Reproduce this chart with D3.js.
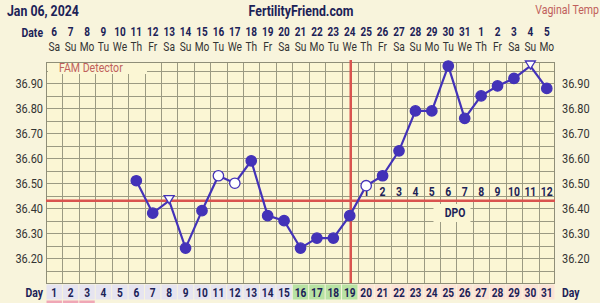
<!DOCTYPE html>
<html><head><meta charset="utf-8">
<script src="https://cdn.jsdelivr.net/npm/d3@7"></script>
<style>
html,body{margin:0;padding:0;background:#f8f4dc;}
svg{display:block;font-family:Roboto,"Noto Sans",sans-serif;}
</style></head>
<body><svg id="c" width="600" height="303"></svg>
<script>
const cycleDays = d3.range(1, 32);
const dateLabels = ["6","7","8","9","10","11","12","13","14","15","16","17","18","19","20","21","22","23","24","25","26","27","28","29","30","31","1","2","3","4","5"];
const weekdays = ["Sa","Su","Mo","Tu","We","Th","Fr","Sa","Su","Mo","Tu","We","Th","Fr","Sa","Su","Mo","Tu","We","Th","Fr","Sa","Su","Mo","Tu","We","Th","Fr","Sa","Su","Mo"];
const temps = [null,null,null,null,null,36.51,36.38,36.43,36.24,36.39,36.53,36.50,36.59,36.37,36.35,36.24,36.28,36.28,36.37,36.49,36.53,36.63,36.79,36.79,36.97,36.76,36.85,36.89,36.92,36.97,36.88];
const markers = [null,null,null,null,null,"f","f","t","f","f","o","o","f","f","f","f","f","f","f","o","f","f","f","f","f","f","f","f","f","t","f"];
const dayPhase = ["p","p","p","n","n","n","n","n","n","n","n","n","n","n","n","g","g","g","g","l","l","l","l","l","l","l","l","l","l","l","l"];
const dpoLabels = [null,null,null,null,null,null,null,null,null,null,null,null,null,null,null,null,null,null,null,"1","2","3","4","5","6","7","8","9","10","11","12"];
const yTicks = [36.20,36.30,36.40,36.50,36.60,36.70,36.80,36.90];
const coverline = 36.43;
const ovulationDay = 19;

const svg = d3.select("#c");
const L = 46, R = 555, T = 62, B = 283;
const x = d3.scaleBand().domain(cycleDays).range([L, R]).padding(0);
const cx = d => x(d) + x.bandwidth() / 2;
const y = d3.scaleLinear().domain([36.10, 36.986]).range([B, T]);
const navy = "#1c2257", purple = "#4332b8", red = "#d9534f";

// condensed text helper
function ctext(parent, tx, ty, str, o) {
  const t = parent.append("text")
    .attr("transform", `translate(${tx},${ty}) scale(${o.sx || 0.8},1)`)
    .attr("font-size", o.size || 12)
    .attr("font-weight", o.bold ? "bold" : "normal")
    .attr("fill", o.fill || navy)
    .attr("text-anchor", o.anchor || "start")
    .text(str);
  return t;
}

// plot background
svg.append("rect").attr("x", L).attr("y", T).attr("width", R - L).attr("height", B - T).attr("fill", "#fbf6d4");

// grid
const g = svg.append("g").attr("stroke", "#9b9a82").attr("stroke-width", 1);
const hLines = d3.range(36.10, 36.99, 0.05);
g.selectAll("line.h").data(hLines).join("line")
  .attr("x1", L).attr("x2", R)
  .attr("y1", d => Math.round(y(d)) + 0.5).attr("y2", d => Math.round(y(d)) + 0.5);
g.selectAll("line.v").data(cycleDays.slice(1)).join("line")
  .attr("y1", T).attr("y2", B)
  .attr("x1", d => Math.round(x(d)) + 0.5).attr("x2", d => Math.round(x(d)) + 0.5);
svg.append("rect").attr("x", L + 0.5).attr("y", T + 0.5).attr("width", R - L - 1).attr("height", B - T)
  .attr("fill", "none").attr("stroke", "#8f8e78");

// FAM detector label
svg.append("rect").attr("x", L + 2).attr("y", T + 1).attr("width", 99).attr("height", 11).attr("fill", "#fbf6d4");
ctext(svg, L + 13, T + 9.5, "FAM Detector", {size: 12, sx: 0.88, fill: "#c0605b"});

// DPO label box
const dpoC = x(26);
svg.append("rect").attr("x", dpoC - 23).attr("y", 204).attr("width", 37).attr("height", 18).attr("fill", "#fbf6d4");
ctext(svg, dpoC - 1.5, y(36.365), "DPO", {size: 13, bold: true, sx: 0.8, anchor: "middle"});

// coverline and ovulation line
svg.append("line").attr("x1", L).attr("x2", R).attr("y1", y(coverline)).attr("y2", y(coverline))
  .attr("stroke", red).attr("stroke-width", 2.5);
const ovX = cx(ovulationDay) + 1;
svg.append("line").attr("x1", ovX).attr("x2", ovX).attr("y1", T - 2).attr("y2", B)
  .attr("stroke", red).attr("stroke-width", 2.5);

// DPO numbers
const dpoG = svg.append("g");
cycleDays.forEach((d, i) => { if (dpoLabels[i]) ctext(dpoG, cx(d), y(36.45) + 0.5, dpoLabels[i], {size: 13, bold: true, sx: 0.8, anchor: "middle"}); });

// temperature line
const pts = cycleDays.map((d, i) => ({d, v: temps[i], m: markers[i]})).filter(p => p.v != null);
const line = d3.line().x(p => cx(p.d)).y(p => y(p.v));
svg.append("path").datum(pts).attr("d", line).attr("fill", "none").attr("stroke", purple).attr("stroke-width", 2.2);
svg.append("g").selectAll("circle").data(pts.filter(p => p.m !== "t")).join("circle")
  .attr("cx", p => cx(p.d)).attr("cy", p => y(p.v)).attr("r", 5.2)
  .attr("fill", p => p.m === "o" ? "#ffffff" : purple).attr("stroke", purple).attr("stroke-width", 1.3);
svg.append("g").selectAll("path").data(pts.filter(p => p.m === "t")).join("path")
  .attr("transform", p => `translate(${cx(p.d)},${y(p.v)})`)
  .attr("d", "M-5,-5L5,-5L0,3Z").attr("fill", "#ffffff").attr("stroke", purple).attr("stroke-width", 1.3);

// y axes
const yl = svg.append("g"), yr = svg.append("g");
yTicks.forEach(t => {
  ctext(yl, L - 3, y(t) + 5, t.toFixed(2), {size: 12.5, sx: 0.88, fill: "#333", anchor: "end"});
  ctext(yr, R + 7, y(t) + 5, t.toFixed(2), {size: 12.5, sx: 0.88, fill: "#333"});
});

// header
ctext(svg, 7, 16, "Jan 06, 2024", {size: 14, bold: true, sx: 0.88});
ctext(svg, 301, 16, "FertilityFriend.com", {size: 14, bold: true, sx: 0.88, anchor: "middle"});
ctext(svg, 599, 14, "Vaginal Temp", {size: 12, sx: 0.88, fill: "#c0605b", anchor: "end"});
ctext(svg, 43, 37, "Date", {size: 13, bold: true, sx: 0.8, anchor: "end"});
const hd = svg.append("g");
cycleDays.forEach((d, i) => {
  ctext(hd, cx(d), 36, dateLabels[i], {size: 12.5, bold: true, sx: 0.8, anchor: "middle"});
  ctext(hd, cx(d), 51, weekdays[i], {size: 12, sx: 0.85, fill: "#333", anchor: "middle"});
});

// day row
const phaseFill = {p: "#e6e4f0", n: "#e6e4f0", g: "#b8e2a3", l: "#fbe3d6"};
const dayRow = svg.append("g");
dayRow.selectAll("rect").data(cycleDays).join("rect")
  .attr("x", d => x(d) + 0.5).attr("y", B + 1.5).attr("width", x.bandwidth() - 1).attr("height", 15)
  .attr("fill", d => phaseFill[dayPhase[d - 1]]);
dayRow.selectAll("rect.m").data(cycleDays.filter(d => dayPhase[d - 1] === "p")).join("rect")
  .attr("x", d => x(d) + 0.5).attr("y", B + 17.5).attr("width", x.bandwidth() - 1).attr("height", 2.5)
  .attr("fill", "#f0a7b6");
cycleDays.forEach(d => ctext(dayRow, cx(d), B + 13.5, String(d), {size: 13, bold: true, sx: 0.78, anchor: "middle"}));
ctext(svg, 43, B + 13.5, "Day", {size: 13, bold: true, sx: 0.8, anchor: "end"});
ctext(svg, R + 7, B + 13.5, "Day", {size: 13, bold: true, sx: 0.8});
</script></body></html>
